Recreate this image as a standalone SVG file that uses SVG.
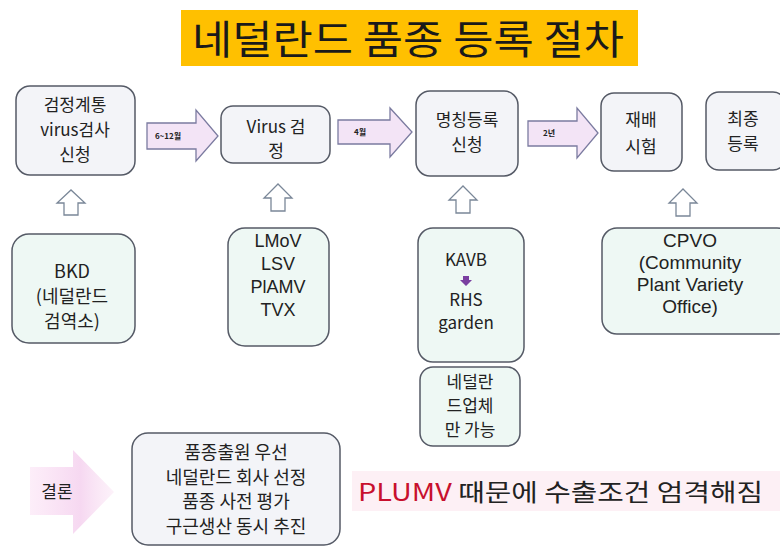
<svg xmlns="http://www.w3.org/2000/svg" width="780" height="551" viewBox="0 0 780 551">
<defs>
<style>
text{font-family:"Noto Sans CJK KR","Noto Sans",sans-serif;fill:#222;text-anchor:middle}
.t{font-size:17px}
.m{font-size:18px}
.e{font-family:"Liberation Sans","Noto Sans",sans-serif;font-size:19px}
.l{font-family:"Liberation Sans","Noto Sans",sans-serif;font-size:18px}
.s{font-size:8px;font-weight:bold}
.top{fill:#F3F4F8;stroke:#555A66;stroke-width:1.5}
.bot{fill:#EEF8F4;stroke:#555A66;stroke-width:1.5}
.rarr{fill:#F3E4F6;stroke:#7B7BA0;stroke-width:1.3}
.uarr{fill:#fff;stroke:#7A8798;stroke-width:1.3}
</style>
<linearGradient id="pg" x1="0" y1="0" x2="1" y2="0">
<stop offset="0" stop-color="#FADDF3" stop-opacity="0.5"/>
<stop offset="0.6" stop-color="#F6D8F1"/>
<stop offset="1" stop-color="#FBE9F6" stop-opacity="0.6"/>
</linearGradient>
</defs>
<rect width="780" height="551" fill="#fff"/>

<g id="title">
<rect x="181" y="10" width="457" height="56" fill="#FFC000"/>
<text x="408" y="54" textLength="432" lengthAdjust="spacingAndGlyphs" style="font-size:40px;fill:#1a1a1a">네덜란드 품종 등록 절차</text>
</g>

<g id="connectors">
<path class="rarr" d="M147,123 H196 V110 L218,136 L196,161 V149 H147 Z"/>
<text class="s" x="168" y="139">6~12월</text>
<path class="rarr" d="M338,120 H390 V108 L412,132 L390,157 V144 H338 Z"/>
<text class="s" x="360" y="135">4월</text>
<path class="rarr" d="M528,121 H577 V108 L598,133 L577,158 V146 H528 Z"/>
<text class="s" x="549" y="136">2년</text>
<path class="uarr" d="M64,215 V203 H57 L71,190 L85,203 H78 V215 Z"/>
<path class="uarr" d="M271,211 V198 H264 L278,184 L292,198 H285 V211 Z"/>
<path class="uarr" d="M456,213 V200 H449 L463,186 L477,200 H470 V213 Z"/>
<path class="uarr" d="M676,216 V203 H669 L683,189 L697,203 H690 V216 Z"/>
</g>

<g id="n1"><rect class="top" x="16" y="86" width="119" height="89" rx="14"/>
<text class="t" x="75" y="111">검정계통</text><text class="t" x="75" y="136">virus검사</text><text class="t" x="75" y="161">신청</text></g>
<g id="n2"><rect class="top" x="221" y="106" width="109" height="57" rx="12"/>
<text class="t" x="276" y="133">Virus 검</text><text class="t" x="276" y="157">정</text></g>
<g id="n3"><rect class="top" x="416" y="91" width="102" height="85" rx="14"/>
<text class="t" x="467" y="126">명칭등록</text><text class="t" x="467" y="151">신청</text></g>
<g id="n4"><rect class="top" x="601" y="93" width="81" height="78" rx="13"/>
<text class="t" x="641" y="126">재배</text><text class="t" x="641" y="153">시험</text></g>
<g id="n5"><rect class="top" x="706" y="92" width="80" height="78" rx="13"/>
<text class="t" x="743" y="125">최종</text><text class="t" x="743" y="150">등록</text></g>

<g id="b1"><rect class="bot" x="12" y="234" width="123" height="109" rx="17"/>
<text class="m" x="72" y="278">BKD</text><text class="m" x="72" y="303">(네덜란드</text><text class="m" x="72" y="328">검역소)</text></g>
<g id="b2"><rect class="bot" x="228" y="228" width="101" height="118" rx="17"/>
<text class="l" x="278" y="247">LMoV</text><text class="l" x="278" y="270">LSV</text><text class="l" x="278" y="293">PlAMV</text><text class="l" x="278" y="316">TVX</text></g>
<g id="b3"><rect class="bot" x="418" y="228" width="106" height="134" rx="15"/>
<text class="t" x="466" y="266">KAVB</text>
<path d="M463,276 H469 V280 H472 L466,286 L460,280 H463 Z" fill="#7A3FA0"/>
<text class="t" x="466" y="306">RHS</text><text class="t" x="466" y="329">garden</text></g>
<g id="b4"><rect class="bot" x="602" y="228" width="190" height="106" rx="15"/>
<text class="e" x="690" y="247">CPVO</text><text class="e" x="690" y="269">(Community</text><text class="e" x="690" y="291">Plant Variety</text><text class="e" x="690" y="313">Office)</text></g>
<g id="b5"><rect class="bot" x="420" y="367" width="100" height="79" rx="13"/>
<text class="t" x="470" y="388">네덜란</text><text class="t" x="470" y="412">드업체</text><text class="t" x="470" y="436">만 가능</text></g>

<g id="conclusion-arrow">
<path d="M30,467 H73 V450 L114,492 L73,534 V515 H30 Z" fill="url(#pg)"/>
<text class="t" x="57" y="498">결론</text></g>
<g id="conclusion"><rect class="top" x="132" y="433" width="208" height="112" rx="16"/>
<text class="m" x="236" y="459">품종출원 우선</text><text class="m" x="236" y="484">네덜란드 회사 선정</text><text class="m" x="236" y="508">품종 사전 평가</text><text class="m" x="236" y="533">구근생산 동시 추진</text></g>
<g id="note">
<rect x="352" y="471" width="428" height="40" fill="#FDF0F5"/>
<text x="358" y="501" textLength="405" lengthAdjust="spacingAndGlyphs" style="font-size:24px;text-anchor:start"><tspan style="fill:#C8102E">PLUMV</tspan> 때문에 수출조건 엄격해짐</text></g>
</svg>
